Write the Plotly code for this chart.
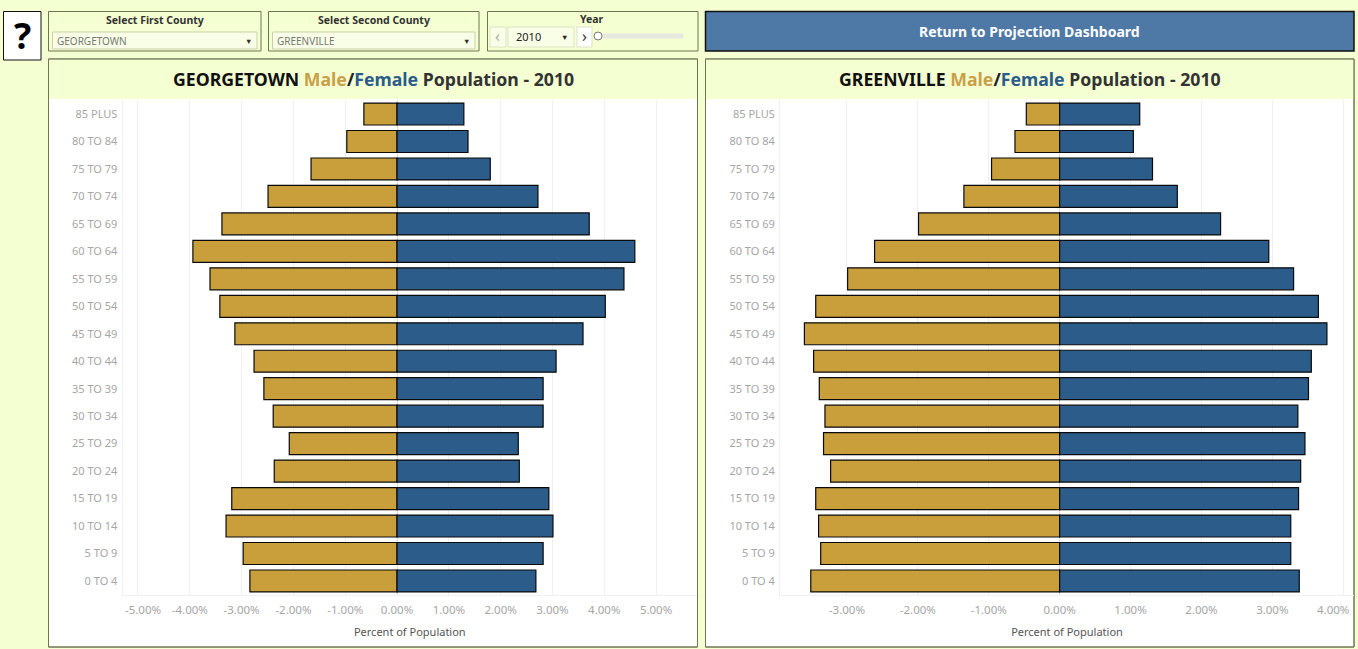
import plotly.graph_objects as go

W, H = 1358, 649
age_groups = ["85 PLUS","80 TO 84","75 TO 79","70 TO 74","65 TO 69","60 TO 64","55 TO 59","50 TO 54","45 TO 49",
              "40 TO 44","35 TO 39","30 TO 34","25 TO 29","20 TO 24","15 TO 19","10 TO 14","5 TO 9","0 TO 4"]
georgetown_male = [-0.64,-0.97,-1.66,-2.49,-3.38,-3.94,-3.61,-3.42,-3.13,-2.76,-2.57,-2.39,-2.08,-2.37,-3.19,-3.30,-2.97,-2.84]
georgetown_female = [1.29,1.37,1.80,2.72,3.71,4.59,4.38,4.02,3.59,3.07,2.82,2.82,2.34,2.36,2.93,3.01,2.82,2.68]
greenville_male = [-0.47,-0.63,-0.96,-1.35,-1.99,-2.61,-2.99,-3.44,-3.60,-3.47,-3.39,-3.31,-3.33,-3.23,-3.44,-3.40,-3.37,-3.51]
greenville_female = [1.13,1.04,1.31,1.66,2.27,2.95,3.30,3.65,3.77,3.55,3.51,3.36,3.46,3.40,3.37,3.26,3.26,3.38]
left_ticks = [-5,-4,-3,-2,-1,0,1,2,3,4,5]
right_ticks = [-3,-2,-1,0,1,2,3,4]

BG = "#F4FFD2"; INNER = "#F9FFE6"; BORDER = "#6F7550"
MALE = "#C99F3C"; FEMALE = "#2B5C8A"; GRID = "#F0F0F0"; TICK = "#A6A6A6"; FONT = "Noto Sans"

def px(x): return x / W
def py(y): return 1 - y / H

shapes, annos = [], []
def box(x0, y0, x1, y1, fill, line=BORDER, lw=1):
    shapes.append(dict(type="rect", xref="paper", yref="paper", x0=px(x0), x1=px(x1), y0=py(y1), y1=py(y0),
                       fillcolor=fill, line=dict(color=line, width=lw), layer="below"))
def label(x, y, text, size=11, color="#333333", xanchor="center"):
    annos.append(dict(xref="paper", yref="paper", x=px(x), y=py(y), text=text, showarrow=False, xanchor=xanchor,
                      yanchor="middle", font=dict(family=FONT, size=size, color=color)))

fig = go.Figure()
def add_panel(male, female, xa, ya):
    for vals, col, nm in ((male, MALE, "Male"), (female, FEMALE, "Female")):
        fig.add_trace(go.Bar(y=age_groups, x=vals, orientation="h", name=nm, xaxis=xa, yaxis=ya,
                             marker=dict(color=col, line=dict(color="#0A0A0A", width=1.2))))
add_panel(georgetown_male, georgetown_female, "x", "y")
add_panel(greenville_male, greenville_female, "x2", "y2")

# dashboard chrome
box(3.5, 11.5, 41, 60, "white", "#111111", 1)
label(22, 35, "<b>?</b>", 36, "#000000")
for x0, x1, title, val in ((48.5, 261, "Select First County", "GEORGETOWN"), (268.5, 479, "Select Second County", "GREENVILLE")):
    box(x0, 11.5, x1, 51, BG)
    box(x0 + 4, 32, x1 - 4, 49, INNER, "#C9D1A8")
    label((x0 + x1) / 2, 20, "<b>%s</b>" % title, 10.5)
    label(x0 + 6, 40.5, val, 10, "#777777", "left")
    label(x1 - 13, 40.5, "▼", 7.5, "#333333")
box(487.5, 11.5, 698, 51, BG)
label(592, 19, "<b>Year</b>", 10.5)
box(490, 27, 506, 47, INNER, "#DDE3C8")
label(498, 36.5, "‹", 16, "#AAAAAA")
box(508, 27, 574, 47, INNER, "#DDE3C8")
label(514, 36.5, "2010", 11, "#222222", "left")
label(564, 37, "▼", 7.5, "#222222")
box(577, 27, 592, 47, "white", "#DDE3C8")
label(584, 36.5, "›", 16, "#333333")
box(597, 34, 683, 38, "#E6E9E0", "#E6E9E0")
shapes.append(dict(type="circle", xref="paper", yref="paper", x0=px(594), x1=px(602), y0=py(40), y1=py(32),
                   fillcolor="white", line=dict(color="#777777", width=1), layer="above"))
box(705.5, 11.5, 1354, 51, "#4E79A7", "#111111", 1.5)
label(1029, 31, "<b>Return to Projection Dashboard</b>", 14, "white")

def title(cx, county):
    label(cx, 79, '<b><span style="color:#111">%s </span><span style="color:%s">Male</span>'
                  '<span style="color:#222">/</span><span style="color:%s">Female</span>'
                  '<span style="color:#333"> Population - 2010</span></b>' % (county, "#C99F4A", FEMALE), 17.7)
for x0, x1, county in ((48.5, 697.5, "GEORGETOWN"), (705.5, 1354, "GREENVILLE")):
    box(x0, 59, x1, 647, "white")
    box(x0 + .5, 59.5, x1 - .5, 99, BG, BG, 0)
    shapes.append(dict(type="rect", xref="paper", yref="paper", x0=px(x0), x1=px(x1), y0=py(647), y1=py(59),
                       line=dict(color=BORDER, width=1), layer="below"))
    title((x0 + x1) / 2, county)

def pct(v): return "%.2f%%" % v
def axis(ticks, rng, dom, anchor, hidden):
    return dict(domain=dom, range=rng, anchor=anchor, tickmode="array", tickvals=ticks,
                ticktext=["" if t == hidden else pct(t) for t in ticks],
                tickfont=dict(family=FONT, size=11.5, color=TICK), showgrid=True, gridcolor=GRID, gridwidth=1,
                zeroline=True, zerolinecolor="#DDDDDD", zerolinewidth=1, showline=True, linecolor=GRID,
                ticks="", fixedrange=True, ticklabelstandoff=4,
                title=dict(text="Percent of Population", font=dict(family=FONT, size=11, color="#555555"), standoff=12))
def yaxis(anchor):
    return dict(domain=[py(594.7), py(100.3)], anchor=anchor, categoryorder="array", categoryarray=age_groups[::-1],
                range=[-0.5, 17.5], tickfont=dict(family=FONT, size=11, color=TICK), showgrid=False, showline=True,
                linecolor=GRID, ticks="", fixedrange=True, ticklabelstandoff=2)

xaxis1 = axis(left_ticks, [-5.297, 5.79], [px(122.6), px(697)], "y", -5)
xaxis2 = axis(right_ticks, [-3.944, 4.152], [px(780), px(1354)], "y2", 4)
annos.append(dict(xref="x", yref="paper", x=-5, y=py(609.5), xshift=5, yanchor="middle", text=pct(-5), showarrow=False,
                  font=dict(family=FONT, size=11.5, color=TICK)))
annos.append(dict(xref="x2", yref="paper", x=4, y=py(609.5), xshift=-10, yanchor="middle", text=pct(4), showarrow=False,
                  font=dict(family=FONT, size=11.5, color=TICK)))

fig.update_layout(width=W, height=H, margin=dict(l=0, r=0, t=0, b=0), paper_bgcolor=BG, plot_bgcolor="white",
                  barmode="overlay", bargap=0.2, showlegend=False, shapes=shapes, annotations=annos,
                  xaxis=xaxis1, xaxis2=xaxis2, yaxis=yaxis("x"), yaxis2=yaxis("x2"))
fig.write_html("out.html", config=dict(displayModeBar=False),
               post_script="document.body.style.margin='0';document.body.style.background='%s';" % BG)
